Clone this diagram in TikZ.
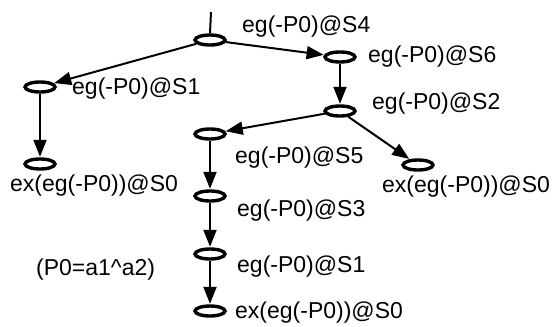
\documentclass[tikz,border=0pt]{standalone}
\usepackage{fontspec}
\setmainfont{Liberation Sans}
\usetikzlibrary{shapes.geometric,arrows.meta}
\begin{document}
\begin{tikzpicture}[x=1pt,y=-1pt,
  st/.style={ellipse,draw,line width=3.4pt,minimum width=30pt,minimum height=10pt,inner sep=0pt},
  lb/.style={anchor=west,inner sep=0pt,font=\fontsize{23}{27}\selectfont},
  ed/.style={line width=2pt,-{Triangle[length=17pt,width=13pt]},shorten >=0.5pt},
  tick/.style={line width=2pt}]
\useasboundingbox (0,0) rectangle (558,327);
\node[st] (root) at (210,40) {};
\node[st] (s6) at (340,57) {};
\node[st] (s2) at (340,111) {};
\node[st] (s1l) at (40,87) {};
\node[st] (exl) at (40,164) {};
\node[st] (s5) at (210,134) {};
\node[st] (s3) at (210,196) {};
\node[st] (s1b) at (210,254) {};
\node[st] (exb) at (210,311) {};
\node[st] (exr) at (418,165) {};
\coordinate (top) at (211,12);
\draw[tick] (top) -- (root.north);
\node[lb] (l4) at (242,27) {eg(-P0)@S4};
\node[lb] (l6) at (368,57) {eg(-P0)@S6};
\node[lb] (l2) at (372,104) {eg(-P0)@S2};
\node[lb] (l1l) at (72,89) {eg(-P0)@S1};
\node[lb] (lexl) at (10,186) {ex(eg(-P0))@S0};
\node[lb] (l5) at (235,158) {eg(-P0)@S5};
\node[lb] (l3) at (237,211) {eg(-P0)@S3};
\node[lb] (l1b) at (237,267) {eg(-P0)@S1};
\node[lb] (lexb) at (235,313) {ex(eg(-P0))@S0};
\node[lb] (lexr) at (382,187) {ex(eg(-P0))@S0};
\node[lb] (lp) at (36,270) {(P0=a1\^{}a2)};
\draw[ed] (root) -- (s6);
\draw[ed] (root) -- (s1l);
\draw[ed] (s6) -- (s2);
\draw[ed] (s2) -- (s5);
\draw[ed] (s2) -- (exr);
\draw[ed] (s1l) -- (exl);
\draw[ed] (s5) -- (s3);
\draw[ed] (s3) -- (s1b);
\draw[ed] (s1b) -- (exb);
\end{tikzpicture}
\end{document}
